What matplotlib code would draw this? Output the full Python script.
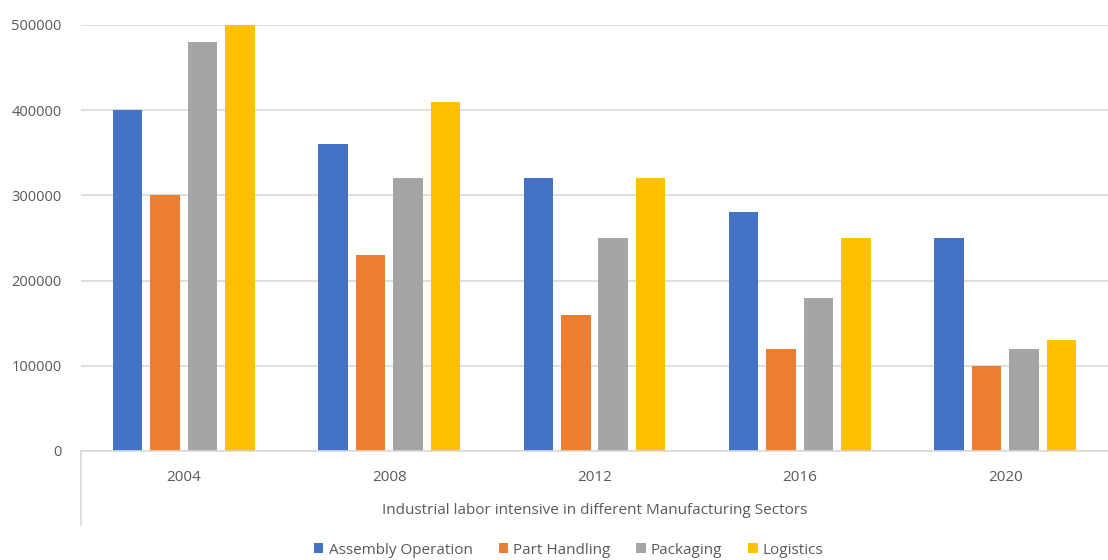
import matplotlib.pyplot as plt
import numpy as np

years = ["2004", "2008", "2012", "2016", "2020"]
series_names = ["Assembly Operation", "Part Handling", "Packaging", "Logistics"]
assembly = [400000, 360000, 320000, 280000, 250000]
part_handling = [300000, 230000, 160000, 120000, 100000]
packaging = [480000, 320000, 250000, 180000, 120000]
logistics = [500000, 410000, 320000, 250000, 130000]
colors = ["#4472C4", "#ED7D31", "#A5A5A5", "#FFC000"]
axis_title = "Industrial labor intensive in different Manufacturing Sectors"

plt.rcParams['font.family'] = ['Open Sans', 'DejaVu Sans']
text_color = "#595959"
grid_color = "#d9d9d9"

fig = plt.figure(figsize=(11.08, 5.6), dpi=100)
ax = fig.add_axes([81 / 1108, 1 - 451 / 560, 1 - 81 / 1108, 426 / 560])

x = np.arange(len(years))
width = 0.1436
step = 0.1825
all_series = [assembly, part_handling, packaging, logistics]
for i, (name, vals) in enumerate(zip(series_names, all_series)):
    offs = (i - 1.5) * step
    ax.bar(x + offs, vals, width, color=colors[i], label=name, zorder=3)

ax.set_xlim(-0.5, len(years) - 0.5)
ax.set_ylim(0, 500000)
ax.set_yticks(np.arange(0, 500001, 100000))
ax.set_yticklabels([str(v) for v in range(0, 500001, 100000)])
ax.yaxis.grid(True, color=grid_color, linewidth=1.2, zorder=0)
ax.set_xticks(x)
ax.set_xticklabels(years)
ax.tick_params(axis='both', length=0, labelsize=10.5, colors=text_color)
ax.tick_params(axis='y', pad=14)
ax.tick_params(axis='x', pad=14, labelsize=11)

for s in ["top", "right", "left"]:
    ax.spines[s].set_visible(False)
ax.spines["bottom"].set_color(grid_color)
ax.spines["bottom"].set_linewidth(1.2)
ax.spines["bottom"].set_zorder(4)

# the multi-level category separator on the left
ax.plot([0, 0], [0, -74 / 426], transform=ax.transAxes, color=grid_color,
        linewidth=1.2, clip_on=False)
ax.text(0.5, -59 / 426, axis_title, transform=ax.transAxes, ha='center',
        va='center', fontsize=11, color=text_color)

handles, labels = ax.get_legend_handles_labels()
fig.legend(handles, labels, loc='center', bbox_to_anchor=(569 / 1108, 1 - 550 / 560),
           ncol=4, frameon=False, fontsize=11, labelcolor=text_color,
           handlelength=0.6, handleheight=0.6, handletextpad=0.35, columnspacing=1.7)

plt.savefig("out.png", dpi=100)
plt.close()
